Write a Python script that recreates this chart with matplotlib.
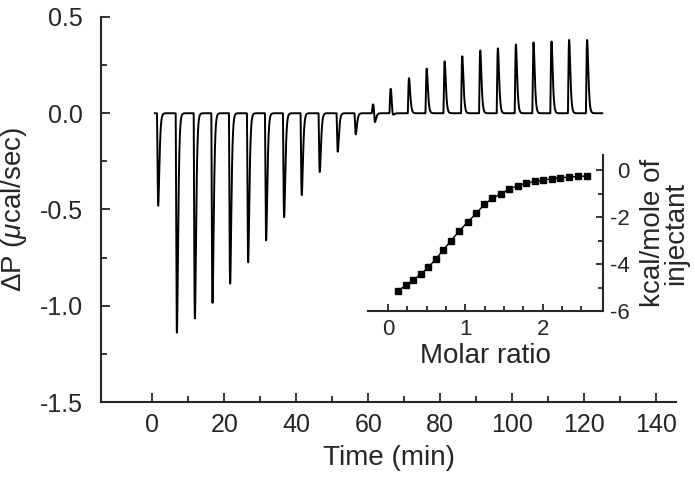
import numpy as np
import matplotlib.pyplot as plt
from matplotlib.ticker import FixedLocator

plt.rcParams['font.family'] = ['Liberation Sans', 'DejaVu Sans']
plt.rcParams['axes.unicode_minus'] = False
plt.rcParams['mathtext.fontset'] = 'custom'
plt.rcParams['mathtext.rm'] = 'Liberation Sans'
plt.rcParams['mathtext.it'] = 'Liberation Sans:italic'

ink = '#262626'

# raw thermogram: injection peak times (min) and peak heights (ucal/sec)
peak_time = [1.6, 6.8, 11.8, 16.7, 21.6, 26.6, 31.6, 36.6, 41.5, 46.5, 51.5, 56.5,
             61.3, 66.2, 71.3, 76.2, 81.2, 86.1, 91.1, 96.0, 101.0, 105.9, 110.9,
             115.8, 120.8]
peak_down = [-0.48, -1.14, -1.065, -0.985, -0.885, -0.775, -0.66, -0.54, -0.425,
             -0.305, -0.20, -0.11, -0.06, -0.035, 0, 0, 0, 0, 0, 0, 0, 0, 0, 0, 0]
peak_up = [0, 0, 0, 0, 0, 0, 0, 0, 0, 0, 0, 0, 0.046, 0.127, 0.182, 0.232, 0.27,
           0.296, 0.326, 0.337, 0.357, 0.368, 0.373, 0.381, 0.381]
run_start, run_end = 0.7, 125.0

# integrated heats
molar_ratio = [0.13, 0.23, 0.325, 0.42, 0.52, 0.62, 0.715, 0.815, 0.92, 1.03, 1.14,
               1.245, 1.35, 1.46, 1.57, 1.68, 1.79, 1.90, 2.01, 2.12, 2.23, 2.34,
               2.46, 2.57]
heat = [-5.14, -4.90, -4.68, -4.44, -4.14, -3.78, -3.40, -3.00, -2.60, -2.21, -1.85,
        -1.46, -1.21, -1.00, -0.81, -0.66, -0.56, -0.48, -0.43, -0.37, -0.33, -0.30,
        -0.27, -0.26]


def pulse(s, tp):
    # unit height peak reached at s = tp, quick decay after
    g = np.zeros_like(s)
    m = s > 0
    g[m] = (s[m] / tp) ** 2 * np.exp(2 * (1 - s[m] / tp))
    return g


t = np.linspace(run_start, run_end, 10000)
dp = np.zeros_like(t)
tp = 0.35
for t0, dn, up in zip(peak_time, peak_down, peak_up):
    if up and dn:
        dp += up * pulse(t - (t0 - tp), tp)
        dp += dn * pulse(t - (t0 + 0.5 - tp), tp)
    else:
        dp += (up + dn) * pulse(t - (t0 - tp), tp)

fig = plt.figure(figsize=(6.95, 4.84), dpi=100)
ax = fig.add_axes([0.1453, 0.1694, 0.8274, 0.7955])
ax.plot(t, dp, color='black', lw=1.4)
ax.set_xlim(-14.3, 145.5)
ax.set_ylim(-1.5, 0.5)
for s in ['top', 'right']:
    ax.spines[s].set_visible(False)
for s in ['left', 'bottom']:
    ax.spines[s].set_linewidth(1.5)
    ax.spines[s].set_color(ink)
ax.xaxis.set_major_locator(FixedLocator(np.arange(0, 141, 20)))
ax.xaxis.set_minor_locator(FixedLocator(np.arange(10, 140, 20)))
ax.yaxis.set_major_locator(FixedLocator(np.arange(-1.5, 0.51, 0.5)))
ax.yaxis.set_minor_locator(FixedLocator(np.arange(-1.25, 0.5, 0.5)))
ax.set_yticklabels(['-1.5', '-1.0', '-0.5', '0.0', '0.5'])
ax.tick_params(which='both', direction='in', color=ink, width=1.3, labelcolor=ink)
ax.tick_params(which='major', length=6.5)
ax.tick_params(which='minor', length=4)
ax.tick_params(axis='x', labelsize=18, pad=8)
ax.tick_params(axis='y', labelsize=18, pad=13)
ax.set_xlabel('Time (min)', fontsize=20, color=ink, labelpad=6)
ax.set_ylabel(r'$\Delta$P ($\mu$cal/sec)', fontsize=20, color=ink, labelpad=8)

ins = fig.add_axes([0.5295, 0.3574, 0.3381, 0.3224])
ins.set_facecolor('none')
ins.plot(molar_ratio, heat, '-s', color='black', lw=1.0, ms=4)
ins.set_xlim(-0.26, 2.78)
ins.set_ylim(-6, 0.64)
for s in ['top', 'left']:
    ins.spines[s].set_visible(False)
for s in ['right', 'bottom']:
    ins.spines[s].set_linewidth(1.5)
    ins.spines[s].set_color(ink)
ins.yaxis.tick_right()
ins.yaxis.set_label_position('right')
ins.xaxis.set_major_locator(FixedLocator([0, 1, 2]))
ins.xaxis.set_minor_locator(FixedLocator(np.arange(0.25, 2.6, 0.25)))
ins.yaxis.set_major_locator(FixedLocator([-6, -4, -2, 0]))
ins.yaxis.set_minor_locator(FixedLocator([-5, -3, -1]))
ins.tick_params(which='both', direction='in', color=ink, width=1.3, labelcolor=ink,
                labelsize=16)
ins.tick_params(which='major', length=5)
ins.tick_params(which='minor', length=3.5)
ins.tick_params(axis='x', pad=6)
ins.tick_params(axis='y', pad=19)
for lab in ins.get_yticklabels():
    lab.set_horizontalalignment('right')
ins.set_xlabel('Molar ratio', fontsize=20, color=ink, labelpad=2)
ins.set_ylabel('kcal/mole of\ninjectant', fontsize=20, color=ink, labelpad=8,
               linespacing=0.85)

fig.savefig('out.png', dpi=100)
